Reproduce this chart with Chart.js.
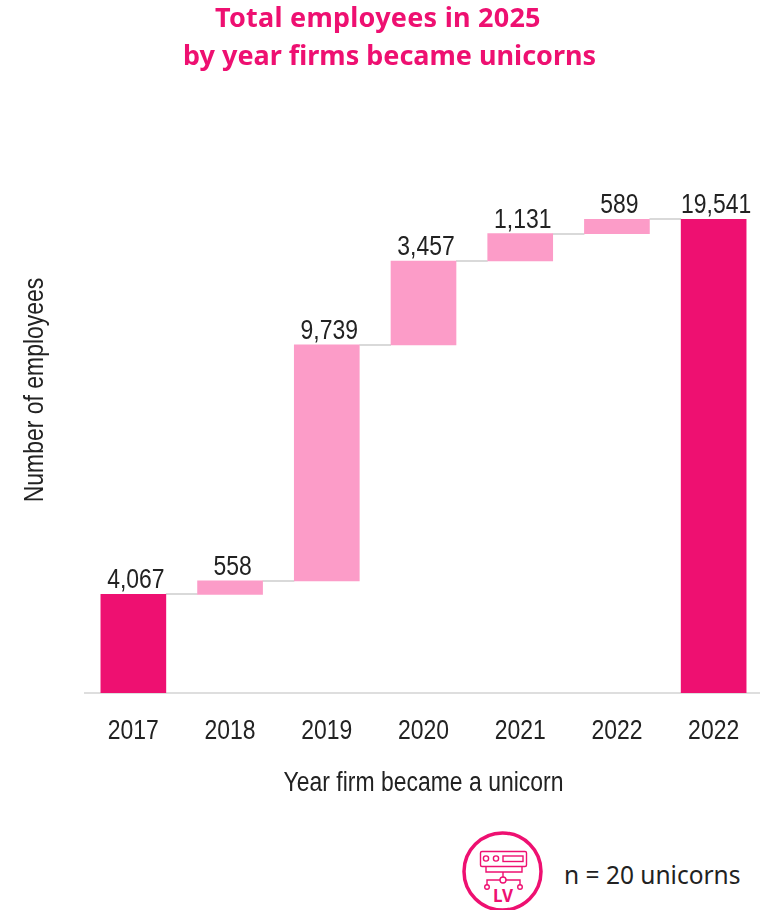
<!DOCTYPE html>
<html>
<head>
<meta charset="utf-8">
<title>Total employees in 2025</title>
<script src="https://cdn.jsdelivr.net/npm/chart.js@4"></script>
<style>
    html, body { margin: 0; padding: 0; background: #fff; }
    #page { position: relative; width: 760px; height: 910px; overflow: hidden; }
    #chartBox { position: absolute; left: 0; top: 0; width: 762px; height: 810px; }
    .heading {
        position: absolute; left: 0; white-space: pre; color: #EE1071;
        font: bold 27px "Noto Sans", sans-serif; line-height: 36px;
    }
    #note {
        position: absolute; left: 564px; top: 857px; white-space: pre; color: #222;
        font: 24.5px "Noto Sans", sans-serif; line-height: 36px;
    }
    #badge { position: absolute; left: 455px; top: 825px; }
</style>
</head>
<body>
<div id="page">
    <div id="chartBox"><canvas id="employeesChart" width="762" height="810"></canvas></div>
    <div class="heading" style="left:215px; top:-1px; letter-spacing:0.25px">Total employees in 2025</div>
    <div class="heading" style="left:183px; top:37px">by year firms became unicorns</div>
    <svg id="badge" width="95" height="85" viewBox="455 825 95 85" fill="none" stroke="#EE1071" stroke-width="1.4">
        <circle cx="502.5" cy="871.5" r="38.5" stroke-width="3.5"/>
        <rect x="480.5" y="851.5" width="46" height="15" rx="1.5"/>
        <path d="M486 867v5h36v-5"/>
        <circle cx="486" cy="858.5" r="2.6"/>
        <circle cx="496" cy="858.5" r="2.6"/>
        <rect x="503" y="856" width="20" height="5.5"/>
        <path d="M503 872v5M487 885v-5h13M506 880h14v5"/>
        <circle cx="503" cy="880" r="3"/>
        <circle cx="487" cy="887" r="2.3"/>
        <circle cx="520" cy="887" r="2.3"/>
        <text x="503" y="902" text-anchor="middle" fill="#EE1071" stroke="none" font-family="Noto Sans" font-weight="bold" font-size="17">LV</text>
    </svg>
    <div id="note">n = 20 unicorns</div>
</div>

<script>
// Datos del gráfico
const years = ['2017', '2018', '2019', '2020', '2021', '2022', '2022'];
const employees = [4067, 558, 9739, 3457, 1131, 589, 19541];
const isTotal = [true, false, false, false, false, false, true];

const totalColor = '#EE1071';
const stepColor = '#FC9CC8';
const connectorColor = '#D9D9D9';
const textColor = '#222222';
const chartFont = '"Liberation Sans", sans-serif';
const textSqueeze = 0.85;

// Barras flotantes: cada paso arranca donde terminó el anterior
let runningTotal = 0;
const floatingBars = employees.map((value, i) => {
    if (isTotal[i]) {
        runningTotal = value;
        return [0, value];
    }
    const bar = [runningTotal, runningTotal + value];
    runningTotal += value;
    return bar;
});

// Líneas grises que unen cada barra con la siguiente
const connectorLines = {
    id: 'connectorLines',
    beforeDatasetsDraw(chart) {
        const { ctx } = chart;
        const bars = chart.getDatasetMeta(0).data;
        ctx.save();
        ctx.strokeStyle = connectorColor;
        ctx.lineWidth = 2;
        for (let i = 0; i < bars.length - 1; i++) {
            const y = Math.round(chart.scales.y.getPixelForValue(floatingBars[i][1]));
            ctx.beginPath();
            ctx.moveTo(bars[i].x + bars[i].width / 2, y);
            ctx.lineTo(bars[i + 1].x - bars[i + 1].width / 2, y);
            ctx.stroke();
        }
        ctx.restore();
    }
};

// Valor encima de cada barra
const valueLabels = {
    id: 'valueLabels',
    afterDatasetsDraw(chart) {
        const { ctx } = chart;
        ctx.save();
        ctx.fillStyle = textColor;
        ctx.font = '27px ' + chartFont;
        ctx.textAlign = 'center';
        ctx.textBaseline = 'alphabetic';
        chart.getDatasetMeta(0).data.forEach((bar, i) => {
            ctx.fillText(employees[i].toLocaleString('en-US'), bar.x + 2.5, bar.y - 6);
        });
        ctx.restore();
    }
};

const canvas = document.getElementById('employeesChart');
const canvasCtx = canvas.getContext('2d');

// No hay fuente estrecha instalada: se comprime el texto en horizontal
const plainFillText = canvasCtx.fillText.bind(canvasCtx);
canvasCtx.fillText = (text, x, y) => {
    canvasCtx.save();
    canvasCtx.translate(x, y);
    canvasCtx.scale(textSqueeze, 1);
    plainFillText(text, 0, 0);
    canvasCtx.restore();
};

new Chart(canvasCtx, {
    type: 'bar',
    data: {
        labels: years,
        datasets: [{
            data: floatingBars,
            backgroundColor: isTotal.map(t => t ? totalColor : stepColor),
            barThickness: 65,
            borderSkipped: false
        }]
    },
    plugins: [connectorLines, valueLabels],
    options: {
        responsive: false,
        animation: false,
        layout: { padding: { top: 87, bottom: 10, left: 0, right: 0 } },
        plugins: { legend: { display: false }, title: { display: false }, tooltip: { enabled: false } },
        scales: {
            x: {
                afterFit(scale) { scale.height = 107; },
                grid: { display: false },
                border: { display: true, color: '#DEDEDE', width: 2 },
                ticks: { color: textColor, font: { family: chartFont, size: 27 }, padding: 14, maxRotation: 0, autoSkip: false },
                title: {
                    display: true,
                    text: 'Year firm became a unicorn',
                    color: textColor,
                    font: { family: chartFont, size: 27 },
                    padding: { top: 0, bottom: 0 }
                }
            },
            y: {
                min: 0,
                max: 25000,
                afterFit(scale) { scale.width = 85; },
                grid: { display: false },
                border: { display: false },
                ticks: { display: false },
                title: {
                    display: true,
                    text: 'Number of employees',
                    color: textColor,
                    font: { family: chartFont, size: 27 },
                    padding: { top: 19, bottom: 0 }
                }
            }
        }
    }
});
</script>
</body>
</html>
